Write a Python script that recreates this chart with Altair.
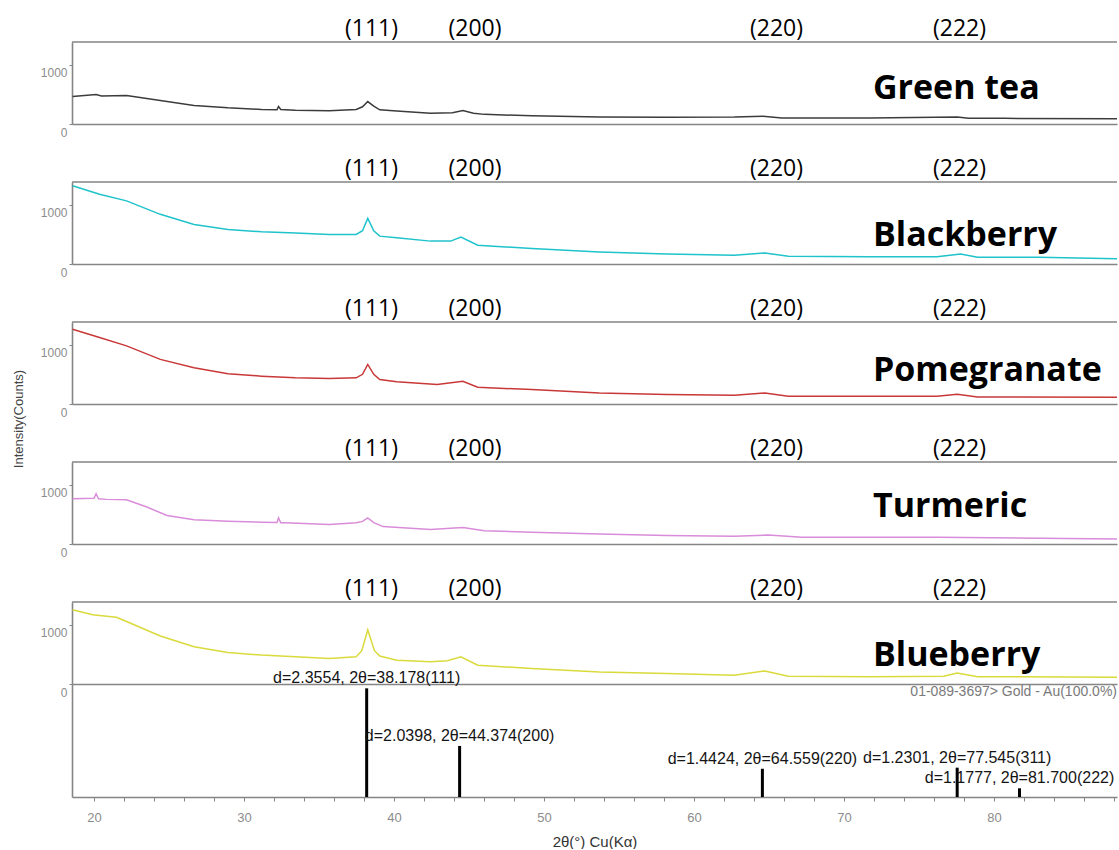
import altair as alt
import pandas as pd

# ---- diffraction scans (2theta in degrees, intensity in counts) ----
samples = ["Green tea", "Blackberry", "Pomegranate", "Turmeric", "Blueberry"]
colors = ["#3c3c3c", "#1fc3cb", "#c93838", "#d98cd9", "#dada3c"]

green_tea_t = [18.57, 20.14, 20.5, 22.17, 24.42, 26.67, 28.93, 31.17, 32.2, 32.3, 32.45,
               33.43, 35.68, 37.48, 37.9, 38.25, 38.65, 39.05, 40.18, 42.43, 43.9, 44.59,
               45.3, 46.03, 49.19, 53.69, 58.19, 62.69, 64.6, 65.85, 71.7, 77.55, 78.3,
               80.71, 88.27]
green_tea_c = [462, 495, 470, 478, 395, 312, 272, 245, 240, 295, 245,
               233, 222, 245, 290, 378, 300, 238, 217, 183, 190, 228,
               180, 162, 138, 117, 112, 117, 130, 100, 100, 117, 98,
               95, 88]

blackberry_t = [18.57, 20.37, 22.17, 24.42, 26.67, 28.93, 31.17, 33.43, 35.68, 37.48,
                37.9, 38.25, 38.65, 39.05, 40.18, 42.43, 43.78, 44.46, 45.58, 49.19,
                53.69, 58.19, 62.69, 64.72, 66.29, 71.7, 76.2, 77.78, 78.9, 82.95, 88.27]
blackberry_c = [1317, 1175, 1062, 836, 666, 581, 542, 520, 497, 497,
                560, 768, 560, 469, 441, 385, 385, 453, 317, 259,
                203, 169, 147, 186, 130, 124, 124, 169, 113, 113, 90]

pomegranate_t = [18.57, 20.37, 22.17, 24.42, 26.67, 28.93, 31.17, 33.43, 35.68, 37.48,
                 37.9, 38.25, 38.65, 39.05, 40.18, 42.88, 44.59, 45.58, 49.19, 53.69,
                 58.19, 62.69, 64.72, 66.29, 71.7, 76.2, 77.55, 78.9, 88.27]
pomegranate_c = [1259, 1119, 978, 751, 610, 508, 469, 441, 429, 441,
                 500, 666, 500, 412, 373, 328, 384, 283, 242, 186,
                 158, 147, 186, 130, 130, 130, 164, 119, 113]

turmeric_t = [18.57, 20.0, 20.14, 20.3, 20.82, 22.17, 23.52, 24.87, 26.67, 28.93,
              31.17, 32.2, 32.3, 32.45, 32.75, 35.68, 37.48, 37.9, 38.25, 38.65,
              39.28, 42.43, 44.59, 46.03, 49.19, 53.69, 58.19, 62.69, 64.95, 67.19,
              76.2, 88.27]
turmeric_c = [763, 770, 847, 760, 751, 746, 622, 480, 407, 384,
              367, 360, 440, 358, 356, 327, 356, 380, 440, 360,
              293, 243, 276, 225, 198, 169, 141, 130, 152, 113,
              113, 85]

blueberry_t = [18.57, 19.9, 21.49, 22.17, 24.42, 26.67, 28.93, 31.17, 33.43, 35.68,
               37.48, 37.85, 38.25, 38.7, 39.05, 40.18, 42.43, 43.56, 44.46, 45.58,
               49.19, 53.69, 58.19, 62.69, 64.72, 66.29, 71.7, 76.65, 77.55, 78.9,
               88.27]
blueberry_c = [1249, 1164, 1124, 1051, 808, 627, 531, 486, 458, 429,
               458, 560, 910, 560, 470, 401, 373, 390, 458, 316,
               260, 203, 175, 147, 220, 130, 124, 130, 186, 124,
               113]

scans_t = [green_tea_t, blackberry_t, pomegranate_t, turmeric_t, blueberry_t]
scans_c = [green_tea_c, blackberry_c, pomegranate_c, turmeric_c, blueberry_c]

# Miller indices marked over each scan
hkl_labels = ["(111)", "(200)", "(220)", "(222)"]
hkl_t = [38.5, 45.4, 65.5, 77.7]

# where each sample name sits (2theta, counts)
name_t = 71.93
name_c = [421, 303, 387, 454, 303]

# reference pattern 01-089-3697 Gold - Au
ref_t = [38.178, 44.374, 64.559, 77.545, 81.700]
ref_d = [2.3554, 2.0398, 1.4424, 1.2301, 1.1777]
ref_hkl = ["(111)", "(200)", "(220)", "(311)", "(222)"]
ref_i = [100, 47, 26, 27, 8]

# ---- layout constants ----
X_MIN, X_MAX = 18.533, 88.2
PANEL_W = 1045
PANEL_H = 82
REF_H = 113
Y_MAX = 1380
REF_MAX = 104
GRAY = "#858585"
LABEL_GRAY = "#8c8c8c"
SANS = "Liberation Sans"

xscale = alt.Scale(domain=[X_MIN, X_MAX], nice=False, zero=False)
yscale = alt.Scale(domain=[0, Y_MAX], nice=False, zero=True)

panel_xaxis = alt.Axis(labels=False, ticks=False, title=None, grid=False,
                       domainColor=GRAY, domainWidth=1.6)
panel_yaxis = alt.Axis(values=[0, 1000], format="d", title=None, grid=False,
                       domainColor=GRAY, domainWidth=1.6, tickColor=GRAY, tickSize=3,
                       labelPadding=2, labelOffset=8, labelFont=SANS, labelFontSize=12,
                       labelColor=LABEL_GRAY)

one_row = pd.DataFrame({"k": [0]})


def scan_panel(i):
    df = pd.DataFrame({"t": scans_t[i], "c": scans_c[i]})
    X = alt.X("t:Q", scale=xscale, axis=panel_xaxis)
    Y = alt.Y("c:Q", scale=yscale, axis=panel_yaxis)

    line = alt.Chart(df).mark_line(color=colors[i], strokeWidth=1.5, clip=True).encode(x=X, y=Y)

    top_edge = alt.Chart(one_row).mark_rule(color=GRAY, strokeWidth=1.6).encode(
        x=alt.value(0), x2=alt.value(PANEL_W), y=alt.value(0))

    hkl_df = pd.DataFrame({"t": hkl_t, "lab": hkl_labels})
    hkl = alt.Chart(hkl_df).mark_text(
        font="Open Sans", fontSize=23, color="black", align="center", baseline="alphabetic"
    ).encode(x=alt.X("t:Q", scale=xscale, axis=panel_xaxis), y=alt.value(-6), text="lab:N")

    name_df = pd.DataFrame({"t": [name_t], "c": [name_c[i]], "lab": [samples[i]]})
    name = alt.Chart(name_df).mark_text(
        font="Open Sans", fontSize=34, fontWeight="bold", color="black",
        align="left", baseline="alphabetic"
    ).encode(x=X, y=Y, text="lab:N")

    layers = [line, top_edge, hkl, name]
    if i == 2:
        # shared y title, centred on the whole stack
        layers.append(alt.Chart(one_row).mark_text(
            font=SANS, fontSize=13, color="#444444", angle=270,
            align="center", baseline="middle"
        ).encode(x=alt.value(-53), y=alt.value(97), text=alt.value("Intensity(Counts)")))
    return alt.layer(*layers).properties(width=PANEL_W, height=PANEL_H)


def ref_panel():
    df = pd.DataFrame({
        "t": ref_t,
        "i": ref_i,
        "z": [0] * len(ref_t),
        "lab": [f"d={d}, 2\u03b8={t:.3f}{h}" for d, t, h in zip(ref_d, ref_t, ref_hkl)],
    })
    xaxis = alt.Axis(values=list(range(20, 89, 2)),
                     labelExpr="datum.value % 10 === 0 ? datum.label : ''",
                     grid=False, domainColor=GRAY, domainWidth=1.6, tickColor=GRAY,
                     tickSize=4, labelPadding=10, labelFont=SANS, labelFontSize=13,
                     labelColor=LABEL_GRAY, title="2\u03b8(\u00b0) Cu(K\u03b1)",
                     titleFont=SANS, titleFontSize=15, titleFontWeight="normal",
                     titleColor="#333333", titlePadding=10)
    yaxis = alt.Axis(labels=False, ticks=False, title=None, grid=False,
                     domainColor=GRAY, domainWidth=1.6)
    rscale = alt.Scale(domain=[0, REF_MAX], nice=False, zero=True)
    X = alt.X("t:Q", scale=xscale, axis=xaxis)
    Y = alt.Y("i:Q", scale=rscale, axis=yaxis)

    sticks = alt.Chart(df).mark_rule(color="black", strokeWidth=3).encode(
        x=X, y=Y, y2="z:Q")
    labels = alt.Chart(df).mark_text(
        font=SANS, fontSize=16, color="#151515", align="center", baseline="middle", dy=-10
    ).encode(x=X, y=Y, text="lab:N")
    card = alt.Chart(one_row).mark_text(
        font=SANS, fontSize=14, color="#7a7a7a", align="right", baseline="middle"
    ).encode(x=alt.value(PANEL_W), y=alt.value(8),
             text=alt.value("01-089-3697> Gold - Au(100.0%)"))
    return alt.layer(sticks, labels, card).properties(width=PANEL_W, height=REF_H)


panels = [scan_panel(i) for i in range(5)]
bottom_block = alt.vconcat(panels[4], ref_panel(), spacing=0, bounds="flush")

chart = alt.vconcat(
    *panels[:4], bottom_block, spacing=58, bounds="flush"
).properties(
    padding={"left": 13, "top": 18, "right": 0, "bottom": 0}
).configure_view(stroke=None).configure_axis(grid=False)

chart.save("out.html", embed_options={"renderer": "svg", "actions": False})
